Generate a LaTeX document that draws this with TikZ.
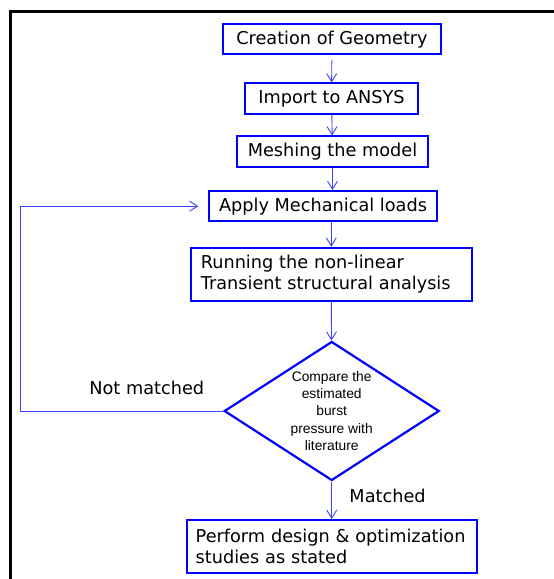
\documentclass[tikz,border=0pt]{standalone}
\usepackage{xcolor}
\usepackage{fontspec}
\setmainfont{DejaVu Sans}
\newfontfamily\diafont{Liberation Sans}
\newcommand\boxfont{\fontsize{17.7}{21}\selectfont\hyphenpenalty=10000\relax}
\usetikzlibrary{shapes.geometric,arrows.meta}

\begin{document}
\begin{tikzpicture}[x=1pt,y=-1pt,
  stage/.style={draw=blue,line width=2pt,fill=white,minimum height=30.5pt,inner xsep=0pt,font=\boxfont},
  wide/.style={stage,align=left,text width=#1,inner xsep=10pt,minimum height=53pt},
  test/.style={diamond,draw=blue,line width=2.2pt,fill=white,aspect=1.55,inner sep=0pt,minimum width=215pt,minimum height=139pt,align=center,font=\diafont\fontsize{13.8}{17.2}\selectfont},
  flow/.style={draw=blue!75,line width=0.9pt,-{Straight Barb[length=8pt,width=10pt]}},
  tag/.style={font=\boxfont}]
\useasboundingbox (0,0) rectangle (554,579);
% frame
\draw[line width=2.6pt] (10.7,579) -- (10.7,11.7) -- (554,11.7);

\node[stage,minimum width=218.6pt] (geo) at (332,39.2) {Creation of Geometry};
\node[stage,minimum width=173pt] (ansys) at (331.5,98.7) {Import to ANSYS};
\node[stage,minimum width=190.4pt] (mesh) at (332.5,151.7) {Meshing the model};
\node[stage,minimum width=228.3pt] (loads) at (323,206.2) {Apply Mechanical loads};
\node[wide=261pt] (run) at (331.3,274.2) {Running the non-linear\\Transient structural analysis};
\node[test] (cmp) at (331.7,411) {Compare the\\estimated\\burst\\pressure with\\literature};
\node[wide=272pt,inner xsep=9pt,minimum height=52.7pt] (study) at (331.7,546.3) {Perform design \& optimization\\studies as stated};
\coordinate (back) at (20.7,411);

% arrows down the chain
\draw[flow,shorten <=5pt] (geo) -- (ansys);
\draw[flow] (ansys) -- (mesh);
\draw[flow] (mesh.south) -- (mesh.south |- loads.north);
\draw[flow] (loads.south -| run) -- (run);
\draw[flow] (run) -- (cmp);
\draw[flow] (cmp) -- (study) node[tag,pos=.385,right=14pt]{Matched};

% loop back
\draw[flow,shorten >=9.5pt] (cmp.west) -- (back) node[tag,pos=.377,above=12pt]{Not matched} |- (loads.west);
\end{tikzpicture}
\end{document}
